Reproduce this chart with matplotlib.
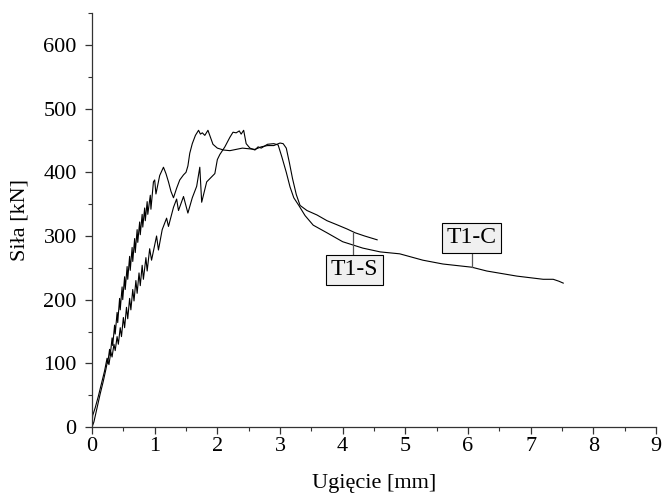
import matplotlib
matplotlib.use("Agg")
import matplotlib.pyplot as plt
from matplotlib.ticker import MultipleLocator

plt.rcParams["font.family"] = ["Liberation Serif", "DejaVu Serif"]

# T1-S: steeper rise, shorter tail (ends ~4.55 mm)
s_x = [0, 0.01, 0.05, 0.1, 0.15, 0.2, 0.24, 0.25, 0.28, 0.29, 0.32, 0.33, 0.36, 0.37,
       0.4, 0.41, 0.44, 0.45, 0.48, 0.49, 0.52, 0.53, 0.56, 0.57, 0.6, 0.61, 0.64, 0.65,
       0.68, 0.69, 0.72, 0.73, 0.76, 0.77, 0.8, 0.81, 0.84, 0.85, 0.88, 0.89, 0.93, 0.94,
       0.98, 1.0, 1.02, 1.08, 1.14, 1.18, 1.22, 1.26, 1.3, 1.35, 1.4, 1.46, 1.5,
       1.53, 1.56, 1.6, 1.65, 1.7, 1.73, 1.76, 1.8, 1.85, 1.89, 1.93, 2.0, 2.1, 2.2, 2.3,
       2.4, 2.5, 2.6, 2.7, 2.8, 2.9, 3.0, 3.05, 3.1, 3.15, 3.2, 3.26, 3.32, 3.43, 3.59,
       3.75, 3.9, 4.07, 4.2, 4.35, 4.55]
s_y = [0, 18, 30, 48, 68, 88, 108, 100, 122, 112, 140, 128, 160, 146,
       180, 164, 202, 184, 220, 200, 236, 216, 252, 232, 268, 246, 282, 260,
       296, 274, 310, 290, 322, 302, 334, 314, 344, 324, 354, 334, 364, 342,
       385, 388, 366, 395, 408, 398, 385, 370, 360, 375, 388, 396, 400,
       410, 430, 445, 458, 466, 460, 462, 458, 466, 455, 444, 438, 435, 434, 436,
       438, 437, 436, 440, 442, 442, 446, 445, 438, 415, 390, 365, 348, 340, 333,
       324, 318, 311, 305, 300, 294]

# T1-C: lower rise, long tail (ends ~7.5 mm)
c_x = [0, 0.03, 0.08, 0.13, 0.18, 0.22, 0.25, 0.27, 0.3, 0.32, 0.35, 0.37, 0.4, 0.42,
       0.45, 0.47, 0.5, 0.52, 0.55, 0.57, 0.6, 0.62, 0.65, 0.67, 0.7, 0.72, 0.75, 0.77,
       0.8, 0.82, 0.86, 0.88, 0.92, 0.95, 1.03, 1.06, 1.12, 1.19, 1.22, 1.3, 1.35, 1.38,
       1.46, 1.53, 1.6, 1.67, 1.72, 1.75, 1.83, 1.9,
       1.96, 2.0, 2.04, 2.12, 2.2, 2.25, 2.3, 2.35, 2.38, 2.42, 2.46, 2.52, 2.6, 2.65,
       2.7, 2.8, 2.9, 2.97, 3.03, 3.1, 3.16, 3.22, 3.3, 3.4, 3.53, 3.75, 4.0, 4.32, 4.6,
       4.91, 5.28, 5.6, 6.06, 6.3, 6.78, 7.2, 7.36, 7.45, 7.52]
c_y = [0, 8, 30, 52, 72, 90, 105, 98, 118, 110, 130, 120, 142, 130,
       156, 142, 172, 156, 188, 170, 202, 184, 216, 198, 230, 210, 242, 222,
       254, 232, 266, 245, 280, 262, 300, 278, 310, 328, 315, 345, 358, 340,
       362, 336, 360, 378, 408, 353, 385, 392,
       398, 420, 428, 440, 455, 463, 462, 465, 460, 466, 445, 438, 435, 440,
       438, 444, 445, 443, 424, 400, 377, 360, 348, 332, 317, 305, 291, 281, 275,
       272, 262, 256, 251, 245, 237, 232, 232, 229, 226]

labels = ["T1-S", "T1-C"]

fig = plt.figure(figsize=(6.63, 4.97), dpi=100)
ax = fig.add_axes([0.1388, 0.1408, 0.8506, 0.8328])

ax.plot(s_x, s_y, color="black", lw=0.8)
ax.plot(c_x, c_y, color="black", lw=0.8)

# label boxes with leader lines
box = dict(boxstyle="square,pad=0.2", fc="#f0f0f0", ec="black", lw=0.8)
ax.plot([4.17, 4.17], [270, 305], color="#555555", lw=0.9)
ax.text(4.19, 247, labels[0], ha="center", va="center", fontsize=17, bbox=box)
ax.plot([6.06, 6.06], [251, 273], color="#555555", lw=0.9)
ax.text(6.06, 297, labels[1], ha="center", va="center", fontsize=17, bbox=box)

ax.set_xlim(0, 9)
ax.set_ylim(0, 650)
ax.xaxis.set_major_locator(MultipleLocator(1))
ax.xaxis.set_minor_locator(MultipleLocator(0.5))
ax.yaxis.set_major_locator(MultipleLocator(100))
ax.yaxis.set_minor_locator(MultipleLocator(50))
ax.spines["top"].set_visible(False)
ax.spines["right"].set_visible(False)
for sp in ["left", "bottom"]:
    ax.spines[sp].set_linewidth(0.9)
    ax.spines[sp].set_color("#333333")
ax.tick_params(which="major", direction="out", length=5, width=0.9, labelsize=16, color="#333333")
ax.tick_params(which="minor", direction="out", length=3, width=0.8, color="#333333")
ax.tick_params(axis="x", which="major", pad=2)
ax.tick_params(axis="y", which="major", pad=6)

ax.set_xlabel("Ugięcie [mm]", fontsize=16, labelpad=13)
ax.set_ylabel("Siła [kN]", fontsize=16, labelpad=10)

fig.savefig("out.png", dpi=100)
